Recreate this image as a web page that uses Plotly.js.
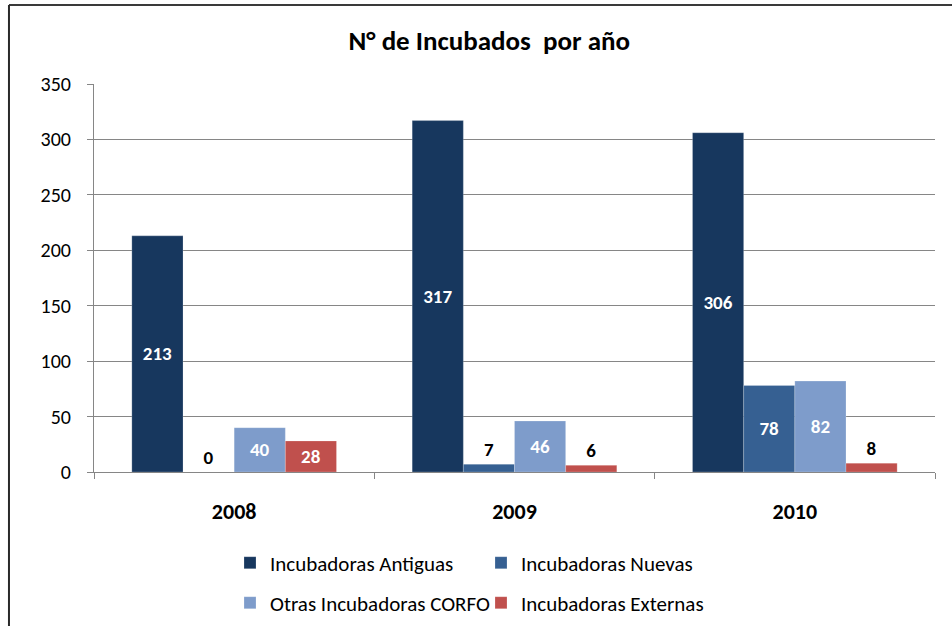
<!DOCTYPE html>
<html>
<head>
<meta charset="utf-8">
<script src="https://cdn.plot.ly/plotly-3.0.1.min.js"></script>
<style>
  body { margin: 0; background: #fff; }
  #chart { width: 952px; height: 626px; }
</style>
</head>
<body>
<div id="chart"></div>
<script>
// years on the x axis
var years = ['2008', '2009', '2010'];

// series values
var antiguas = [213, 317, 306];
var nuevas = [0, 7, 78];
var otrasCorfo = [40, 46, 82];
var externas = [28, 6, 8];

var yTicks = [0, 50, 100, 150, 200, 250, 300, 350];

var FONT = 'Carlito, Lato, "Liberation Sans", sans-serif';

function makeBar(name, values, color, legendId) {
    return {
        type: 'bar',
        name: name,
        x: years,
        y: values,
        legend: legendId,
        marker: {
            color: color,
            line: { color: 'rgba(255,255,255,0.35)', width: 0.6 }
        },
        text: values.map(String),
        // zero-height bars drop 'auto' text, so force those outside
        textposition: values.map(function (v) { return v === 0 ? 'outside' : 'auto'; }),
        insidetextanchor: 'middle',
        insidetextfont: { color: '#ffffff', size: 19, family: FONT, weight: 'bold' },
        outsidetextfont: { color: '#000000', size: 19, family: FONT, weight: 'bold' },
        cliponaxis: false,
        hoverinfo: 'x+y+name'
    };
}

var data = [
    makeBar('Incubadoras Antiguas', antiguas, '#17375E', 'legend'),
    makeBar('Incubadoras Nuevas', nuevas, '#366092', 'legend'),
    makeBar('Otras Incubadoras CORFO', otrasCorfo, '#7E9CCB', 'legend2'),
    makeBar('Incubadoras Externas', externas, '#C0504D', 'legend2')
];

var layout = {
    width: 952,
    height: 626,
    paper_bgcolor: '#ffffff',
    plot_bgcolor: '#ffffff',
    font: { family: FONT, size: 20, color: '#000000' },
    margin: { l: 94, r: 17, t: 84, b: 154, pad: 0 },
    title: {
        text: 'N° de Incubados  por año',
        font: { family: FONT, size: 27, weight: 'bold', color: '#000000' },
        x: 0.514,
        xanchor: 'center',
        y: 0.936,
        yanchor: 'middle'
    },
    barmode: 'group',
    bargap: 0.27,
    bargroupgap: 0,
    xaxis: {
        type: 'category',
        showline: true,
        linecolor: '#868686',
        linewidth: 1,
        ticks: 'outside',
        tickson: 'boundaries',
        ticklen: 6,
        tickcolor: '#868686',
        ticklabelstandoff: 20,
        tickfont: { family: FONT, size: 22, weight: 'bold' },
        showgrid: false,
        zeroline: false
    },
    yaxis: {
        range: [0, 350],
        tickvals: yTicks,
        ticktext: yTicks.map(String),
        showline: true,
        linecolor: '#868686',
        linewidth: 1,
        ticks: 'outside',
        ticklen: 6,
        tickcolor: '#868686',
        ticklabelstandoff: 12,
        tickfont: { family: FONT, size: 20 },
        showgrid: true,
        gridcolor: '#868686',
        gridwidth: 1,
        zeroline: false,
        fixedrange: true
    },
    legend: {
        orientation: 'h',
        xref: 'container',
        yref: 'container',
        x: 0.2416,
        xanchor: 'left',
        y: 0.1006,
        yanchor: 'middle',
        entrywidth: 206,
        font: { family: FONT, size: 21 },
        traceorder: 'normal'
    },
    legend2: {
        orientation: 'h',
        xref: 'container',
        yref: 'container',
        x: 0.2416,
        xanchor: 'left',
        y: 0.0367,
        yanchor: 'middle',
        entrywidth: 206,
        font: { family: FONT, size: 21 },
        traceorder: 'normal'
    },
    // outer frame of the original chart (top and left edges only are visible)
    shapes: [
        {
            type: 'line', xref: 'paper', yref: 'paper',
            x0: -0.1011, x1: 1.05, y0: 1.2036, y1: 1.2036,
            line: { color: '#3a3a3a', width: 2 }
        },
        {
            type: 'line', xref: 'paper', yref: 'paper',
            x0: -0.1011, x1: -0.1011, y0: 1.2036, y1: -0.45,
            line: { color: '#2a2a2a', width: 2 }
        }
    ]
};

var config = { responsive: false, displayModeBar: false, staticPlot: true };

Plotly.newPlot('chart', data, layout, config);
</script>
</body>
</html>
